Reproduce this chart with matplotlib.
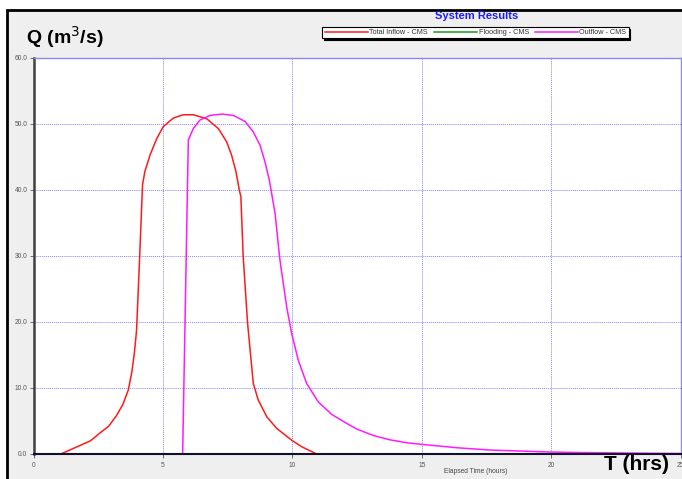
import matplotlib
matplotlib.use("Agg")
import matplotlib.pyplot as plt
from matplotlib.patches import Rectangle

# Hydrograph values (time in hours, flow in m3/s)
inflow_t = [1.05, 1.8, 2.2, 2.6, 2.9, 3.2, 3.45, 3.66, 3.8, 3.9, 3.98, 4.1,
            4.21, 4.30, 4.50, 4.76, 5.01, 5.40, 5.78, 6.17, 6.69, 7.14, 7.46,
            7.65, 7.82, 7.95, 8.01, 8.10, 8.27, 8.49, 8.68, 9.01, 9.39, 9.97,
            10.36, 10.94]
inflow_q = [0.0, 1.3, 2.0, 3.3, 4.2, 5.8, 7.5, 9.7, 12.5, 15.5, 18.8, 30.0,
            40.8, 42.8, 45.3, 47.8, 49.6, 50.9, 51.4, 51.4, 50.8, 49.3, 47.3,
            45.3, 42.8, 40.0, 39.0, 29.9, 19.8, 10.7, 8.2, 5.65, 3.9, 2.1,
            1.1, 0.0]

flooding_t = [0.0, 25.0]
flooding_q = [0.0, 0.0]

outflow_t = [5.76, 5.98, 6.17, 6.43, 6.82, 7.27, 7.72, 8.17, 8.49, 8.75, 8.94,
             9.11, 9.33, 9.52, 9.78, 9.97, 10.23, 10.55, 11.0, 11.52, 12.03,
             12.48, 13.13, 13.77, 14.42, 15.03, 16.35, 17.64, 19.95, 21.5,
             24.07, 25.0]
outflow_q = [0.0, 47.6, 49.3, 50.6, 51.3, 51.5, 51.3, 50.4, 48.8, 46.8, 44.3,
             41.5, 36.5, 29.4, 22.3, 18.3, 14.2, 10.7, 7.9, 6.0, 4.8,
             3.8, 2.8, 2.15, 1.7, 1.45, 0.95, 0.6, 0.3, 0.2,
             0.1, 0.08]

series_labels = ["Total Inflow - CMS", "Flooding - CMS", "Outflow - CMS"]
x_ticks = [0, 5, 10, 15, 20, 25]
y_ticks = [0, 10, 20, 30, 40, 50, 60]

W, H = 682, 479
plt.rcParams["font.family"] = ["Liberation Sans", "DejaVu Sans"]
fig = plt.figure(figsize=(W / 100, H / 100), dpi=100, facecolor="white")

# grey panel with black frame behind everything
panel = Rectangle((7 / W, -0.05), 1.1, 1 - 10 / H + 0.05,
                  transform=fig.transFigure, facecolor="#efefef",
                  edgecolor="black", lw=2.0, zorder=-10)
fig.patches.append(panel)

ax = fig.add_axes([33.6 / W, 1 - 454 / H, (680.5 - 33.6) / W, (454 - 58) / H])
ax.set_zorder(1)
ax.set_facecolor("white")

l1, = ax.plot(inflow_t, inflow_q, color="#ff1a1a", lw=1.1, zorder=3)
l2, = ax.plot(flooding_t, flooding_q, color="#1a9a1a", lw=1.1, zorder=1)
l3, = ax.plot(outflow_t, outflow_q, color="#ff1aff", lw=1.1, zorder=3)

ax.set_xlim(0, 25)
ax.set_ylim(0, 60)
ax.set_xticks(x_ticks)
ax.set_xticklabels([str(v) for v in x_ticks])
ax.set_yticks(y_ticks)
ax.set_yticklabels([f"{v:.1f}" for v in y_ticks])

ax.grid(True, color="#8585ff", linestyle=(0, (1, 1)), lw=0.7)
ax.set_axisbelow(True)

ax.spines["left"].set_color("#404040")
ax.spines["left"].set_linewidth(1.8)
ax.spines["bottom"].set_color("#101030")
ax.spines["bottom"].set_linewidth(1.5)
ax.spines["bottom"].set_zorder(4)
for s in ("top", "right"):
    ax.spines[s].set_color("#8a8af0")
    ax.spines[s].set_linewidth(1.0)

ax.tick_params(axis="both", labelsize=4.8, colors="#555555", length=3,
               width=0.6, pad=1.5)
ax.tick_params(axis="x", pad=3)

fig.text(477 / W, 1 - 16 / H, "System Results", color="#1a1aff",
         fontsize=8, fontweight="bold", ha="center", va="center")

fig.text(476 / W, 1 - 471.5 / H, "Elapsed Time (hours)", color="#444444",
         fontsize=4.8, ha="center", va="center")

fig.text(26 / W, 1 - 37 / H, "Q (m$^3$/s)", fontsize=14, fontweight="bold",
         ha="left", va="center", color="black")
fig.text(636 / W, 1 - 465 / H, "T (hrs)", fontsize=15, fontweight="bold",
         ha="center", va="center", color="black", zorder=10)

leg = fig.legend([l1, l2, l3], series_labels, loc="center",
                 bbox_to_anchor=(475.5 / W, 1 - 32.7 / H), ncol=3,
                 fontsize=5.2, frameon=True, fancybox=False,
                 edgecolor="black", facecolor="white", framealpha=1,
                 handlelength=6.0, handletextpad=0.2, columnspacing=0.8,
                 borderpad=0.3, borderaxespad=0,
                 shadow={"facecolor": "black", "edgecolor": "black",
                         "alpha": 1, "ox": 1.3, "oy": -1.3})
leg.set_zorder(5)
leg.get_frame().set_linewidth(0.8)
for t in leg.get_texts():
    t.set_color("#333333")

fig.savefig("out.png", dpi=100, facecolor="white")
